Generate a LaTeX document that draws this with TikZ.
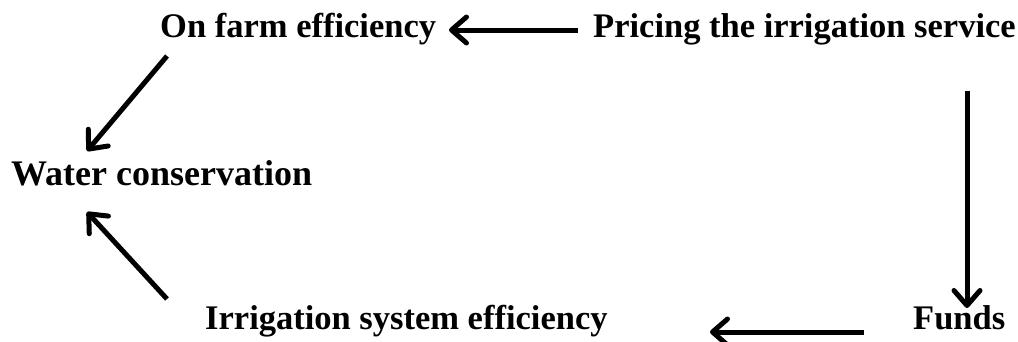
\documentclass[tikz,border=0pt]{standalone}
\usepackage{fontspec}
\setmainfont{Liberation Serif}
\usetikzlibrary{arrows.meta}
\begin{document}
\begin{tikzpicture}[x=1pt,y=-1pt,
  label/.style={inner sep=0pt,anchor=base west,font=\fontsize{34.5}{40}\selectfont\bfseries},
  flow/.style={line width=5pt,-{Straight Barb[length=15pt,width=26pt,line cap=round,line join=round]}}]
  \useasboundingbox (0,0) rectangle (1018,341);
  % labels
  \node[label] (farm)  at (160,37)  {On farm efficiency};
  \node[label] (price) at (593,37)  {Pricing the irrigation service};
  \node[label,font=\fontsize{36}{42}\selectfont\bfseries] (water) at (11,185) {Water conservation};
  \node[label] (irr)   at (205,329) {Irrigation system efficiency};
  \node[label] (funds) at (913,329) {Funds};
  % arrow end points
  \coordinate (a1s) at (578,30);  \coordinate (a1e) at (449,30);
  \coordinate (a2s) at (167,56);  \coordinate (a2e) at (87,151);
  \coordinate (a3s) at (167,299); \coordinate (a3e) at (87,212);
  \coordinate (a4s) at (864,332); \coordinate (a4e) at (710,332);
  \coordinate (a5s) at (967,91);  \coordinate (a5e) at (967,308);
  % connectors
  \draw[flow] (a1s) -- (a1e);
  \draw[flow] (a2s) -- (a2e);
  \draw[flow] (a3s) -- (a3e);
  \draw[flow] (a4s) -- (a4e);
  \draw[flow] (a5s) -- (a5e);
\end{tikzpicture}
\end{document}
